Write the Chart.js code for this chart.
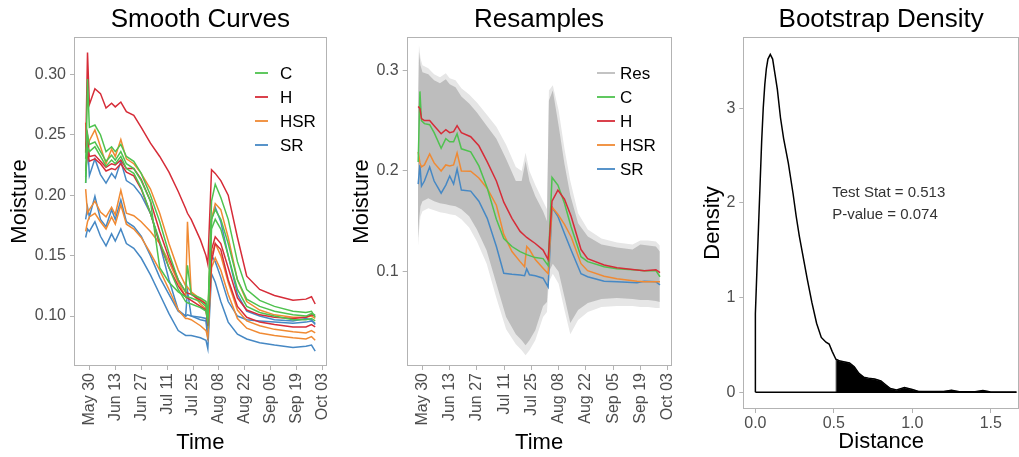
<!DOCTYPE html>
<html>
<head>
<meta charset="utf-8">
<script src="https://cdn.jsdelivr.net/npm/chart.js@4.4.1/dist/chart.umd.min.js"></script>
<style>
  html, body { margin: 0; padding: 0; background: #fff; }
  body { width: 1019px; height: 457px; position: relative; overflow: hidden; }
  canvas { position: absolute; top: 0; }
</style>
</head>
<body>
<canvas id="smooth" width="345" height="457" style="left:0"></canvas>
<canvas id="resamples" width="345" height="457" style="left:345px"></canvas>
<canvas id="density" width="329" height="457" style="left:690px"></canvas>
<script>
// time axis (days after May 30)
const dayTicks = [0, 14, 28, 42, 56, 70, 84, 98, 112, 126];
const dayLabels = ['May 30', 'Jun 13', 'Jun 27', 'Jul 11', 'Jul 25', 'Aug 08', 'Aug 22', 'Sep 05', 'Sep 19', 'Oct 03'];

// Smooth Curves: 3 curves per treatment
const smoothDays = [-2, -1, 0, 3, 6, 9, 12, 14, 17, 20, 24, 28, 33, 38, 43, 48, 52, 53, 55, 60, 63, 64, 66, 68, 71, 75, 80, 85, 92, 100, 110, 117, 120, 122];
const C1 = [0.210, 0.296, 0.256, 0.258, 0.250, 0.236, 0.240, 0.236, 0.242, 0.232, 0.228, 0.218, 0.200, 0.178, 0.152, 0.130, 0.120, 0.142, 0.118, 0.115, 0.112, 0.100, 0.195, 0.209, 0.198, 0.180, 0.145, 0.122, 0.113, 0.108, 0.104, 0.103, 0.104, 0.099];
const C2 = [0.230, 0.250, 0.242, 0.244, 0.236, 0.228, 0.233, 0.229, 0.236, 0.226, 0.222, 0.212, 0.195, 0.140, 0.128, 0.120, 0.116, 0.116, 0.115, 0.112, 0.108, 0.098, 0.180, 0.188, 0.180, 0.160, 0.130, 0.114, 0.108, 0.104, 0.101, 0.100, 0.102, 0.101];
const C3 = [0.215, 0.240, 0.236, 0.240, 0.232, 0.224, 0.229, 0.226, 0.232, 0.222, 0.218, 0.206, 0.185, 0.162, 0.140, 0.122, 0.112, 0.111, 0.110, 0.107, 0.104, 0.095, 0.172, 0.180, 0.172, 0.150, 0.122, 0.108, 0.103, 0.100, 0.097, 0.097, 0.098, 0.096];
const H1 = [0.235, 0.318, 0.275, 0.288, 0.284, 0.272, 0.276, 0.273, 0.277, 0.269, 0.266, 0.256, 0.243, 0.232, 0.219, 0.203, 0.189, 0.185, 0.180, 0.163, 0.150, 0.143, 0.221, 0.218, 0.212, 0.200, 0.165, 0.133, 0.122, 0.117, 0.113, 0.114, 0.116, 0.110];
const H2 = [0.240, 0.250, 0.232, 0.233, 0.228, 0.223, 0.226, 0.225, 0.229, 0.222, 0.222, 0.213, 0.195, 0.170, 0.148, 0.130, 0.120, 0.119, 0.118, 0.113, 0.110, 0.095, 0.155, 0.1655, 0.160, 0.140, 0.115, 0.105, 0.101, 0.099, 0.098, 0.099, 0.101, 0.100];
const H3 = [0.220, 0.235, 0.228, 0.230, 0.226, 0.220, 0.222, 0.221, 0.226, 0.219, 0.216, 0.205, 0.185, 0.160, 0.140, 0.125, 0.116, 0.115, 0.113, 0.108, 0.105, 0.092, 0.145, 0.160, 0.155, 0.130, 0.108, 0.099, 0.095, 0.093, 0.091, 0.091, 0.093, 0.091];
const HSR1 = [0.260, 0.235, 0.245, 0.254, 0.240, 0.226, 0.238, 0.232, 0.246, 0.230, 0.226, 0.218, 0.205, 0.185, 0.160, 0.138, 0.125, 0.124, 0.120, 0.114, 0.110, 0.100, 0.180, 0.193, 0.188, 0.165, 0.130, 0.112, 0.105, 0.101, 0.099, 0.099, 0.100, 0.098];
const HSR2 = [0.205, 0.185, 0.188, 0.195, 0.186, 0.182, 0.190, 0.184, 0.204, 0.185, 0.183, 0.178, 0.170, 0.160, 0.145, 0.128, 0.116, 0.178, 0.120, 0.110, 0.106, 0.095, 0.150, 0.160, 0.150, 0.128, 0.105, 0.096, 0.092, 0.089, 0.087, 0.086, 0.088, 0.086];
const HSR3 = [0.170, 0.178, 0.182, 0.185, 0.178, 0.172, 0.182, 0.176, 0.192, 0.176, 0.172, 0.165, 0.152, 0.138, 0.122, 0.105, 0.098, 0.098, 0.097, 0.092, 0.088, 0.082, 0.140, 0.148, 0.138, 0.118, 0.098, 0.090, 0.086, 0.084, 0.082, 0.081, 0.083, 0.080];
const SR1 = [0.210, 0.245, 0.216, 0.230, 0.217, 0.210, 0.218, 0.214, 0.228, 0.212, 0.208, 0.200, 0.185, 0.160, 0.130, 0.105, 0.100, 0.101, 0.100, 0.099, 0.098, 0.085, 0.180, 0.190, 0.178, 0.150, 0.118, 0.104, 0.100, 0.097, 0.096, 0.098, 0.097, 0.093];
const SR2 = [0.180, 0.190, 0.182, 0.199, 0.180, 0.174, 0.188, 0.180, 0.196, 0.178, 0.174, 0.166, 0.150, 0.132, 0.118, 0.104, 0.100, 0.121, 0.100, 0.097, 0.096, 0.080, 0.150, 0.145, 0.132, 0.112, 0.100, 0.097, 0.096, 0.095, 0.094, 0.095, 0.096, 0.094];
const SR3 = [0.165, 0.172, 0.170, 0.178, 0.166, 0.158, 0.168, 0.162, 0.172, 0.160, 0.156, 0.148, 0.134, 0.118, 0.102, 0.088, 0.084, 0.084, 0.084, 0.082, 0.080, 0.073, 0.135, 0.128, 0.112, 0.095, 0.085, 0.081, 0.078, 0.076, 0.074, 0.075, 0.076, 0.071];

// Resamples: envelope of the resampled curves + treatment means
const bandDays = [-2.3, -1.8, -1, 0, 3, 6, 9, 12, 14, 17, 20, 24, 28, 33, 38, 43, 48, 51, 53, 55, 58, 62, 64, 65, 67, 70, 73, 76, 80, 85, 92, 100, 108, 112, 116, 120, 122];
const outerHi = [0.26, 0.325, 0.312, 0.305, 0.302, 0.296, 0.293, 0.297, 0.292, 0.29, 0.282, 0.276, 0.268, 0.256, 0.244, 0.226, 0.204, 0.2, 0.218, 0.2, 0.186, 0.17, 0.162, 0.28, 0.285, 0.26, 0.222, 0.19, 0.158, 0.142, 0.133, 0.129, 0.127, 0.131, 0.131, 0.13, 0.126];
const outerLo = [0.125, 0.14, 0.155, 0.16, 0.163, 0.161, 0.159, 0.158, 0.157, 0.156, 0.152, 0.144, 0.13, 0.108, 0.074, 0.043, 0.028, 0.022, 0.017, 0.022, 0.032, 0.055, 0.06, 0.09, 0.098, 0.088, 0.062, 0.038, 0.052, 0.06, 0.065, 0.066, 0.066, 0.065, 0.065, 0.064, 0.064];
const bandHi = [0.25, 0.318, 0.305, 0.298, 0.296, 0.29, 0.287, 0.291, 0.286, 0.283, 0.274, 0.267, 0.258, 0.245, 0.232, 0.212, 0.19, 0.19, 0.21, 0.19, 0.175, 0.16, 0.15, 0.27, 0.28, 0.245, 0.207, 0.176, 0.148, 0.135, 0.127, 0.124, 0.122, 0.127, 0.126, 0.125, 0.12];
const bandLo = [0.133, 0.15, 0.165, 0.17, 0.173, 0.17, 0.168, 0.167, 0.166, 0.165, 0.162, 0.155, 0.142, 0.121, 0.088, 0.055, 0.038, 0.032, 0.027, 0.032, 0.042, 0.066, 0.07, 0.1, 0.108, 0.1, 0.075, 0.049, 0.062, 0.069, 0.073, 0.074, 0.073, 0.072, 0.072, 0.071, 0.07];

const meanDays = [-2.2, -1.3, -0.5, 1, 3.7, 6, 9.6, 12, 14, 16, 17.8, 20, 24.8, 29, 33.3, 38, 41.8, 46, 50.2, 52.5, 53.6, 55, 58, 62, 64.6, 66.6, 69.6, 73, 76.4, 81.5, 84.9, 93.4, 100, 110.3, 114, 120, 122.1];
const meanC = [0.209, 0.279, 0.250, 0.247, 0.246, 0.238, 0.2225, 0.232, 0.229, 0.229, 0.237, 0.222, 0.219, 0.205, 0.183, 0.152, 0.133, 0.125, 0.120, 0.118, 0.117, 0.116, 0.114, 0.113, 0.106, 0.1936, 0.186, 0.168, 0.1446, 0.1149, 0.110, 0.105, 0.103, 0.1017, 0.101, 0.101, 0.095];
const meanH = [0.264, 0.262, 0.252, 0.250, 0.250, 0.245, 0.237, 0.241, 0.238, 0.239, 0.245, 0.238, 0.234, 0.225, 0.209, 0.190, 0.169, 0.153, 0.140, 0.136, 0.134, 0.132, 0.128, 0.1215, 0.112, 0.170, 0.181, 0.172, 0.155, 0.122, 0.113, 0.1066, 0.104, 0.1017, 0.101, 0.102, 0.099];
const meanHSR = [0.219, 0.208, 0.204, 0.206, 0.217, 0.208, 0.200, 0.206, 0.205, 0.206, 0.218, 0.200, 0.1997, 0.193, 0.1826, 0.166, 0.137, 0.120, 0.110, 0.105, 0.125, 0.122, 0.112, 0.1035, 0.098, 0.164, 0.157, 0.147, 0.1347, 0.108, 0.101, 0.0955, 0.093, 0.0906, 0.090, 0.090, 0.090];
const meanSR = [0.187, 0.206, 0.185, 0.190, 0.204, 0.190, 0.178, 0.186, 0.195, 0.187, 0.202, 0.181, 0.180, 0.170, 0.153, 0.125, 0.0985, 0.0975, 0.0968, 0.096, 0.1028, 0.097, 0.096, 0.0936, 0.085, 0.164, 0.155, 0.138, 0.1215, 0.098, 0.095, 0.0906, 0.090, 0.089, 0.0905, 0.090, 0.087];

// Bootstrap density of the distance statistic
const distX = [0, 0.01, 0.02, 0.03, 0.04, 0.05, 0.06, 0.07, 0.08, 0.095, 0.11, 0.125, 0.14, 0.16, 0.18, 0.21, 0.24, 0.26, 0.28, 0.30, 0.33, 0.36, 0.39, 0.42, 0.45, 0.47, 0.49, 0.513, 0.54, 0.57, 0.60, 0.63, 0.66, 0.69, 0.72, 0.76, 0.80, 0.83, 0.86, 0.90, 0.95, 1.00, 1.04, 1.10, 1.20, 1.25, 1.30, 1.40, 1.45, 1.50, 1.60, 1.66];
const densY = [0.83, 1.3, 1.75, 2.2, 2.65, 3.0, 3.25, 3.42, 3.52, 3.57, 3.52, 3.36, 3.2, 2.9, 2.68, 2.42, 2.1, 1.86, 1.65, 1.47, 1.2, 0.95, 0.73, 0.58, 0.53, 0.51, 0.43, 0.35, 0.33, 0.32, 0.31, 0.27, 0.2, 0.16, 0.15, 0.14, 0.12, 0.08, 0.04, 0.025, 0.05, 0.03, 0.01, 0.008, 0.01, 0.022, 0.006, 0.006, 0.02, 0.004, 0.004, 0.004];
const testStat = 0.513;
const pValue = 0.074;

const FONT = "'Liberation Sans', Arial, Helvetica, sans-serif";
const TICK_TEXT = '#4d4d4d';
const FRAME = '#b3b3b3';
const colC = '#4fc24f', colH = '#d62c38', colHSR = '#f08a33', colSR = '#4688c4', colRes = '#bdbdbd';

function pts(xs, ys) {
  return xs.map((x, i) => ({ x: x, y: ys[i] }));
}

const decor = {
  id: 'decor',
  afterDraw(chart, args, o) {
    const ctx = chart.ctx, a = chart.chartArea;
    ctx.save();
    ctx.strokeStyle = FRAME;
    ctx.lineWidth = 1;
    ctx.strokeRect(Math.round(a.left) + 0.5, Math.round(a.top) + 0.5, Math.round(a.width) - 1, Math.round(a.height) - 1);
    ctx.fillStyle = '#000';
    ctx.font = '26px ' + FONT;
    ctx.textAlign = 'center';
    ctx.textBaseline = 'middle';
    ctx.fillText(o.title, (a.left + a.right) / 2, 20);
    if (o.legend) {
      const L = o.legend;
      ctx.font = '17px ' + FONT;
      ctx.textAlign = 'left';
      L.items.forEach((it, i) => {
        const y = L.y + i * L.dy;
        ctx.strokeStyle = it.color;
        ctx.lineWidth = 1.8;
        ctx.beginPath(); ctx.moveTo(L.x0, y); ctx.lineTo(L.x1, y); ctx.stroke();
        ctx.fillStyle = '#000';
        ctx.fillText(it.label, L.tx, y + 1);
      });
    }
    if (o.notes) {
      ctx.font = '15px ' + FONT;
      ctx.fillStyle = '#333';
      ctx.textAlign = 'left';
      const sx = chart.scales.x, sy = chart.scales.y;
      o.notes.forEach(n => ctx.fillText(n.text, sx.getPixelForValue(n.x), sy.getPixelForValue(n.y)));
    }
    ctx.restore();
  }
};

function gridOpts() {
  return { drawOnChartArea: false, tickLength: 4, color: FRAME, tickColor: FRAME };
}

function xAxis(min, max, tickVals, fmt, height, rotate, title, titleBottom) {
  return {
    type: 'linear', min: min, max: max,
    afterBuildTicks: s => { s.ticks = tickVals.map(v => ({ value: v })); },
    afterFit: s => { s.height = height; },
    grid: gridOpts(),
    border: { display: false },
    ticks: {
      autoSkip: false, maxRotation: rotate, minRotation: rotate, padding: rotate ? 3 : 1,
      color: TICK_TEXT, font: { size: 16, family: FONT },
      callback: (v, i) => fmt(v, i)
    },
    title: { display: true, text: title, color: '#000', font: { size: 22, family: FONT }, padding: { top: 0, bottom: titleBottom } }
  };
}

function yAxis(min, max, tickVals, fmt, width, title, titleTop) {
  return {
    type: 'linear', min: min, max: max,
    afterBuildTicks: s => { s.ticks = tickVals.map(v => ({ value: v })); },
    afterFit: s => { s.width = width; },
    grid: gridOpts(),
    border: { display: false },
    ticks: { padding: 4, color: TICK_TEXT, font: { size: 16, family: FONT }, callback: v => fmt(v) },
    title: { display: true, text: title, color: '#000', font: { size: 22, family: FONT }, padding: { top: titleTop, bottom: 0 } }
  };
}

function curve(xs, ys, color, width) {
  return { data: pts(xs, ys), borderColor: color, borderWidth: width || 1.5, pointRadius: 0, fill: false, tension: 0 };
}

const baseOpts = {
  responsive: false, animation: false, events: [],
  plugins: { legend: { display: false }, tooltip: { enabled: false } }
};

// panel 1
const smoothSets = [
  [C1, colC], [C2, colC], [C3, colC],
  [H1, colH], [H2, colH], [H3, colH],
  [HSR1, colHSR], [HSR2, colHSR], [HSR3, colHSR],
  [SR1, colSR], [SR2, colSR], [SR3, colSR]
];
new Chart(document.getElementById('smooth'), {
  type: 'line',
  data: { datasets: smoothSets.map(s => curve(smoothDays, s[0], s[1])) },
  options: Object.assign({}, baseOpts, {
    layout: { padding: { left: 0, right: 12, top: 37, bottom: 0 } },
    scales: {
      x: xAxis(-8.3, 128.2, dayTicks, (v, i) => dayLabels[i], 91, 90, 'Time', 1),
      y: yAxis(0.0587, 0.3308, [0.10, 0.15, 0.20, 0.25, 0.30], v => v.toFixed(2), 74, 'Moisture', 7)
    },
    plugins: Object.assign({}, baseOpts.plugins, {
      decor: {
        title: 'Smooth Curves',
        legend: { x0: 255, x1: 268, tx: 280, y: 73, dy: 24,
          items: [{ label: 'C', color: colC }, { label: 'H', color: colH }, { label: 'HSR', color: colHSR }, { label: 'SR', color: colSR }] }
      }
    })
  }),
  plugins: [decor]
});

// panel 2
const noLine = 'rgba(0,0,0,0)';
new Chart(document.getElementById('resamples'), {
  type: 'line',
  data: {
    datasets: [
      { data: pts(bandDays, outerLo), borderColor: noLine, borderWidth: 0, pointRadius: 0, fill: false, order: 10 },
      { data: pts(bandDays, outerHi), borderColor: noLine, borderWidth: 0, pointRadius: 0, fill: '-1', backgroundColor: '#e6e6e6', order: 9 },
      { data: pts(bandDays, bandLo), borderColor: noLine, borderWidth: 0, pointRadius: 0, fill: false, order: 8 },
      { data: pts(bandDays, bandHi), borderColor: noLine, borderWidth: 0, pointRadius: 0, fill: '-1', backgroundColor: colRes, order: 7 },
      Object.assign(curve(meanDays, meanSR, colSR), { order: 4 }),
      Object.assign(curve(meanDays, meanHSR, colHSR), { order: 3 }),
      Object.assign(curve(meanDays, meanC, colC), { order: 2 }),
      Object.assign(curve(meanDays, meanH, colH), { order: 1 })
    ]
  },
  options: Object.assign({}, baseOpts, {
    layout: { padding: { left: 0, right: 15, top: 37, bottom: 0 } },
    scales: {
      x: xAxis(-8.1, 128.0, dayTicks, (v, i) => dayLabels[i], 91, 90, 'Time', 1),
      y: yAxis(0.0064, 0.333, [0.1, 0.2, 0.3], v => v.toFixed(1), 61.7, 'Moisture', 4)
    },
    plugins: Object.assign({}, baseOpts.plugins, {
      decor: {
        title: 'Resamples',
        legend: { x0: 252, x1: 270, tx: 275, y: 73, dy: 24,
          items: [{ label: 'Res', color: colRes }, { label: 'C', color: colC }, { label: 'H', color: colH }, { label: 'HSR', color: colHSR }, { label: 'SR', color: colSR }] }
      }
    })
  }),
  plugins: [decor]
});

// panel 3
const densPts = pts(distX, densY);
const outline = [{ x: distX[0], y: 0 }].concat(densPts, [{ x: distX[distX.length - 1], y: 0 }, { x: distX[0], y: 0 }]);
const tailPts = densPts.filter(p => p.x >= testStat);
const tail = [{ x: testStat, y: 0 }].concat(tailPts, [{ x: distX[distX.length - 1], y: 0 }]);
new Chart(document.getElementById('density'), {
  type: 'line',
  data: {
    datasets: [
      { data: outline, borderColor: '#000', borderWidth: 1.5, pointRadius: 0, fill: false, tension: 0, order: 1 },
      { data: tail, borderColor: '#9a9a9a', borderWidth: 1, pointRadius: 0, fill: 'origin', backgroundColor: '#000', tension: 0, order: 2 }
    ]
  },
  options: Object.assign({}, baseOpts, {
    layout: { padding: { left: 0, right: 0, top: 37, bottom: 0 } },
    scales: {
      x: xAxis(-0.077, 1.68, [0, 0.5, 1.0, 1.5], v => v.toFixed(1), 48, 0, 'Distance', 2),
      y: yAxis(-0.176, 3.753, [0, 1, 2, 3], v => String(v), 53.3, 'Density', 10)
    },
    plugins: Object.assign({}, baseOpts.plugins, {
      decor: {
        title: 'Bootstrap Density',
        notes: [
          { text: 'Test Stat = ' + testStat.toFixed(3), x: 0.49, y: 2.11 },
          { text: 'P-value = ' + pValue.toFixed(3), x: 0.49, y: 1.87 }
        ]
      }
    })
  }),
  plugins: [decor]
});
</script>
</body>
</html>
